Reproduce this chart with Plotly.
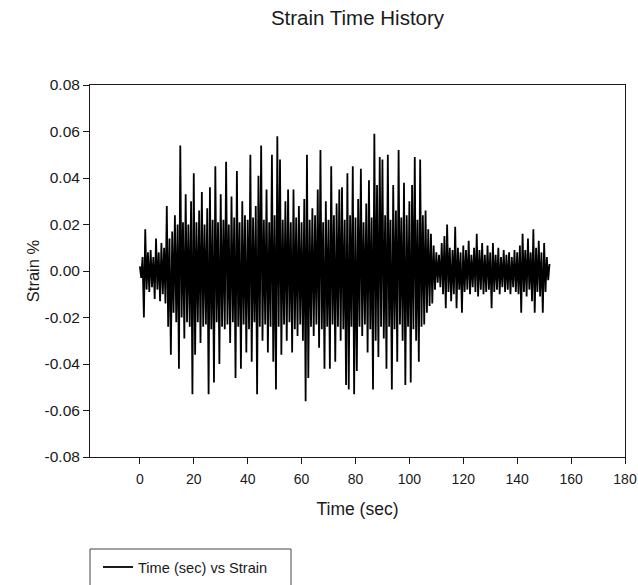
import numpy as np
import plotly.graph_objects as go

# Strain record (strain %), sampled every 0.5 s.
# Positive peaks fall on whole seconds (t = 0, 1, 2, ...),
# negative troughs on the half seconds (t = 0.5, 1.5, ...).
dt = 0.5

strain_peaks = [
    0.002, 0.006, 0.018, 0.008, 0.009, 0.006, 0.014, 0.008, 0.012, 0.010,
    0.028, 0.014, 0.017, 0.024, 0.020, 0.054, 0.021, 0.033, 0.020, 0.030,
    0.042, 0.021, 0.026, 0.034, 0.020, 0.027, 0.036, 0.022, 0.045, 0.021,
    0.033, 0.022, 0.047, 0.020, 0.032, 0.023, 0.043, 0.021, 0.030, 0.024,
    0.022, 0.050, 0.023, 0.028, 0.041, 0.054, 0.022, 0.035, 0.021, 0.050,
    0.024, 0.058, 0.048, 0.022, 0.030, 0.035, 0.021, 0.035, 0.023, 0.028,
    0.021, 0.031, 0.050, 0.022, 0.027, 0.024, 0.035, 0.052, 0.021, 0.030,
    0.022, 0.045, 0.024, 0.029, 0.035, 0.036, 0.022, 0.042, 0.024, 0.045,
    0.023, 0.031, 0.044, 0.021, 0.029, 0.039, 0.023, 0.059, 0.037, 0.049,
    0.048, 0.024, 0.050, 0.022, 0.037, 0.026, 0.052, 0.023, 0.038, 0.024,
    0.030, 0.037, 0.049, 0.022, 0.048, 0.024, 0.026, 0.018, 0.016, 0.011,
    0.008, 0.007, 0.012, 0.015, 0.020, 0.010, 0.009, 0.019, 0.010, 0.008,
    0.011, 0.009, 0.013, 0.007, 0.010, 0.016, 0.009, 0.012, 0.007, 0.011,
    0.008, 0.012, 0.007, 0.010, 0.006, 0.009, 0.007, 0.008, 0.006, 0.009,
    0.008, 0.011, 0.016, 0.009, 0.014, 0.008, 0.018, 0.010, 0.013, 0.008,
    0.012, 0.006, 0.003,
]

strain_troughs = [
    -0.003, -0.020, -0.008, -0.009, -0.007, -0.012, -0.008, -0.013, -0.010, -0.014,
    -0.024, -0.036, -0.018, -0.022, -0.042, -0.020, -0.029, -0.022, -0.024, -0.053,
    -0.036, -0.022, -0.031, -0.024, -0.023, -0.053, -0.025, -0.048, -0.022, -0.040,
    -0.024, -0.025, -0.023, -0.031, -0.022, -0.046, -0.024, -0.042, -0.023, -0.035,
    -0.025, -0.039, -0.022, -0.053, -0.024, -0.030, -0.023, -0.035, -0.024, -0.039,
    -0.051, -0.024, -0.036, -0.023, -0.030, -0.022, -0.035, -0.025, -0.028, -0.023,
    -0.030, -0.056, -0.046, -0.024, -0.028, -0.023, -0.033, -0.025, -0.042, -0.024,
    -0.042, -0.023, -0.039, -0.024, -0.030, -0.025, -0.049, -0.051, -0.024, -0.053,
    -0.043, -0.024, -0.028, -0.023, -0.035, -0.025, -0.051, -0.030, -0.037, -0.024,
    -0.029, -0.042, -0.024, -0.051, -0.025, -0.039, -0.023, -0.030, -0.049, -0.024,
    -0.048, -0.025, -0.030, -0.039, -0.024, -0.023, -0.018, -0.015, -0.014, -0.008,
    -0.005, -0.007, -0.010, -0.016, -0.009, -0.013, -0.010, -0.016, -0.008, -0.018,
    -0.009, -0.008, -0.010, -0.007, -0.009, -0.011, -0.008, -0.010, -0.009, -0.008,
    -0.016, -0.009, -0.008, -0.010, -0.007, -0.009, -0.008, -0.010, -0.007, -0.009,
    -0.010, -0.018, -0.009, -0.011, -0.008, -0.013, -0.018, -0.009, -0.011, -0.018,
    -0.009, -0.004,
]

x_ticks = [0, 20, 40, 60, 80, 100, 120, 140, 160, 180]
y_ticks = [-0.08, -0.06, -0.04, -0.02, 0.0, 0.02, 0.04, 0.06, 0.08]
y_tick_labels = ["-0.08", "-0.06", "-0.04", "-0.02", "0.00",
                 "0.02", "0.04", "0.06", "0.08"]

# interleave peaks and troughs into one time series
n = len(strain_peaks) + len(strain_troughs)
strain = np.empty(n)
strain[0::2] = strain_peaks
strain[1::2] = strain_troughs
time = np.arange(n) * dt

FONT = "Liberation Sans, Arial, sans-serif"
INK = "#1a1a1a"
W, H = 638, 585
M_L, M_R, M_T, M_B = 90, 13, 85, 128
plot_w = W - M_L - M_R
plot_h = H - M_T - M_B


def paper_x(px):
    return (px - M_L) / plot_w


def paper_y(py):
    return (H - M_B - py) / plot_h


fig = go.Figure()
fig.add_trace(go.Scatter(
    x=time, y=strain, mode="lines",
    line=dict(color="black", width=1.8),
    name="Time (sec) vs Strain",
))

axis_common = dict(
    showline=True, linecolor=INK, linewidth=1, mirror=True,
    ticks="outside", ticklen=6, tickwidth=1, tickcolor=INK,
    showgrid=False, zeroline=False, automargin=False,
)

# legend frame, running off the bottom edge of the page
fig.add_shape(type="rect", xref="paper", yref="paper",
              x0=paper_x(90), x1=paper_x(291), y0=paper_y(549), y1=paper_y(610),
              line=dict(color="#444", width=1), fillcolor="white", layer="below")

fig.update_layout(
    width=W, height=H,
    margin=dict(l=M_L, r=M_R, t=M_T, b=M_B),
    paper_bgcolor="white", plot_bgcolor="white",
    font=dict(family=FONT, color=INK),
    title=dict(text="Strain Time History", x=0.5, xref="paper",
               y=1 - 18 / H, yref="container", yanchor="middle",
               font=dict(size=20.5, color=INK)),
    xaxis=dict(range=[-18.5, 180], tickvals=x_ticks,
               tickfont=dict(size=14), ticklabelstandoff=3,
               title=dict(text="Time (sec)", font=dict(size=17.5), standoff=16),
               **axis_common),
    yaxis=dict(range=[-0.08, 0.08], tickvals=y_ticks, ticktext=y_tick_labels,
               tickfont=dict(size=15.5),
               title=dict(text="Strain %", font=dict(size=16.5), standoff=0),
               **axis_common),
    showlegend=True,
    legend=dict(x=paper_x(98), xanchor="left", xref="paper",
                y=1 - 551 / H, yref="container", yanchor="top",
                borderwidth=0, bgcolor="rgba(0,0,0,0)",
                font=dict(size=14.6, color=INK)),
)

fig.write_html("out.html")
